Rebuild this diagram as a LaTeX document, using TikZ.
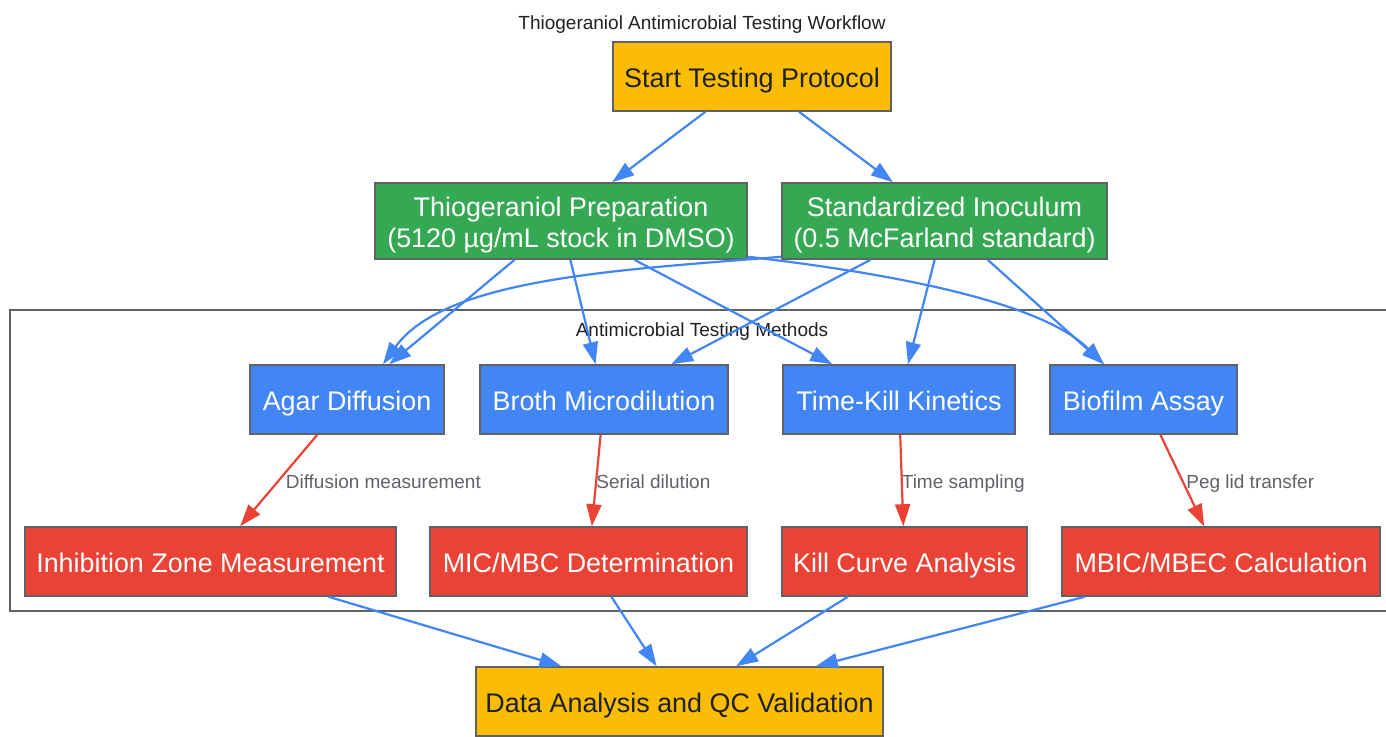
\documentclass[tikz,border=0pt]{standalone}
\usepackage{fontspec}
\setmainfont{Liberation Sans}
\usetikzlibrary{arrows.meta}
\definecolor{cyellow}{HTML}{FBBC04}
\definecolor{cgreen}{HTML}{34A853}
\definecolor{cblue}{HTML}{4285F4}
\definecolor{cred}{HTML}{EA4335}
\definecolor{cborder}{HTML}{5F6368}
\definecolor{ctext}{HTML}{202124}
\definecolor{clabel}{HTML}{5F6368}
\begin{document}
\begin{tikzpicture}[x=1pt,y=-1pt,
  box/.style={draw=cborder, line width=1.5pt, inner sep=0pt, align=center, font=\fontsize{26.9}{31}\selectfont, text height=24.1pt, text depth=1.9pt},
  ybox/.style={box, fill=cyellow, text=ctext},
  gbox/.style={box, fill=cgreen, text=white, text height=55.1pt},
  bbox/.style={box, fill=cblue, text=white},
  rbox/.style={box, fill=cred, text=white},
  barrow/.style={draw=cblue, line width=2.2pt, -{Triangle[length=22pt,width=15pt]}},
  rarrow/.style={draw=cred, line width=2.2pt, -{Triangle[length=22pt,width=15pt]}},
  elabel/.style={text=clabel, font=\fontsize{19}{22}\selectfont, anchor=west, inner sep=0pt, text height=17.1pt, text depth=1.33pt},
  ttl/.style={text=ctext, font=\fontsize{19}{22}\selectfont, inner sep=0pt, text height=17.1pt, text depth=1.33pt},
  clusterbox/.style={draw=cborder, line width=1.5pt, inner sep=0pt},
]
\useasboundingbox (0,0) rectangle (1386,736);
\fill[white] (0,0) rectangle (1386,736);

\node[ttl] (title) at (702,22) {Thiogeraniol Antimicrobial Testing Workflow};

\node[clusterbox, minimum width=1390pt, minimum height=301pt] (cluster) at (705,460.5) {};
\node[ttl] (clusterlabel) at (702,329) {Antimicrobial Testing Methods};

\node[ybox, minimum width=278pt, minimum height=69pt] (start) at (752,76.5) {Start Testing Protocol};
\node[gbox, minimum width=372pt, minimum height=76pt] (prep) at (561,221) {Thiogeraniol Preparation\\(5120 µg/mL stock in DMSO)};
\node[gbox, minimum width=325pt, minimum height=76pt] (inoc) at (944.5,221) {Standardized Inoculum\\(0.5 McFarland standard)};

\node[bbox, minimum width=194pt, minimum height=69pt] (agar) at (347,399.5) {Agar Diffusion};
\node[bbox, minimum width=248pt, minimum height=69pt] (broth) at (604,399.5) {Broth Microdilution};
\node[bbox, minimum width=232pt, minimum height=69pt] (tk) at (899,399.5) {Time-Kill Kinetics};
\node[bbox, minimum width=187pt, minimum height=69pt] (bio) at (1143.5,399.5) {Biofilm Assay};

\node[rbox, minimum width=371pt, minimum height=69pt] (inh) at (210.5,561.5) {Inhibition Zone Measurement};
\node[rbox, minimum width=317pt, minimum height=69pt] (mic) at (588.5,561.5) {MIC/MBC Determination};
\node[rbox, minimum width=245pt, minimum height=69pt] (kill) at (904.5,561.5) {Kill Curve Analysis};
\node[rbox, minimum width=318pt, minimum height=69pt] (mbic) at (1221,561.5) {MBIC/MBEC Calculation};

\node[ybox, minimum width=407pt, minimum height=69pt] (data) at (679.5,701.5) {Data Analysis and QC Validation};

% top edges
\draw[barrow] (start) -- (prep);
\draw[barrow] (start) -- (inoc);
\draw[barrow] (prep) -- (agar);
\draw[barrow] (prep) -- (broth);
\draw[barrow] (prep) -- (tk);
\draw[barrow] ([yshift=3pt]prep.south east) .. controls (880,272) and (1040,300) .. ([xshift=-40pt]bio.north);
\draw[barrow] ([yshift=3pt]inoc.south west) .. controls (620,270) and (445,278) .. ([xshift=36pt]agar.north);
\draw[barrow] (inoc) -- (broth);
\draw[barrow] (inoc) -- (tk);
\draw[barrow] (inoc) -- (bio);

% red edges
\draw[rarrow] (agar) -- node[elabel, pos=0.5, xshift=6pt] {Diffusion measurement} (inh);
\draw[rarrow] (broth) -- node[elabel, pos=0.5, xshift=-1pt] {Serial dilution} (mic);
\draw[rarrow] (tk) -- node[elabel, pos=0.5, xshift=-1pt] {Time sampling} (kill);
\draw[rarrow] (bio) -- node[elabel, pos=0.5, xshift=3pt] {Peg lid transfer} (mbic);

% bottom edges
\draw[barrow] (inh) -- (data);
\draw[barrow] (mic) -- (data);
\draw[barrow] (kill) -- (data);
\draw[barrow] (mbic) -- (data);
\end{tikzpicture}
\end{document}
